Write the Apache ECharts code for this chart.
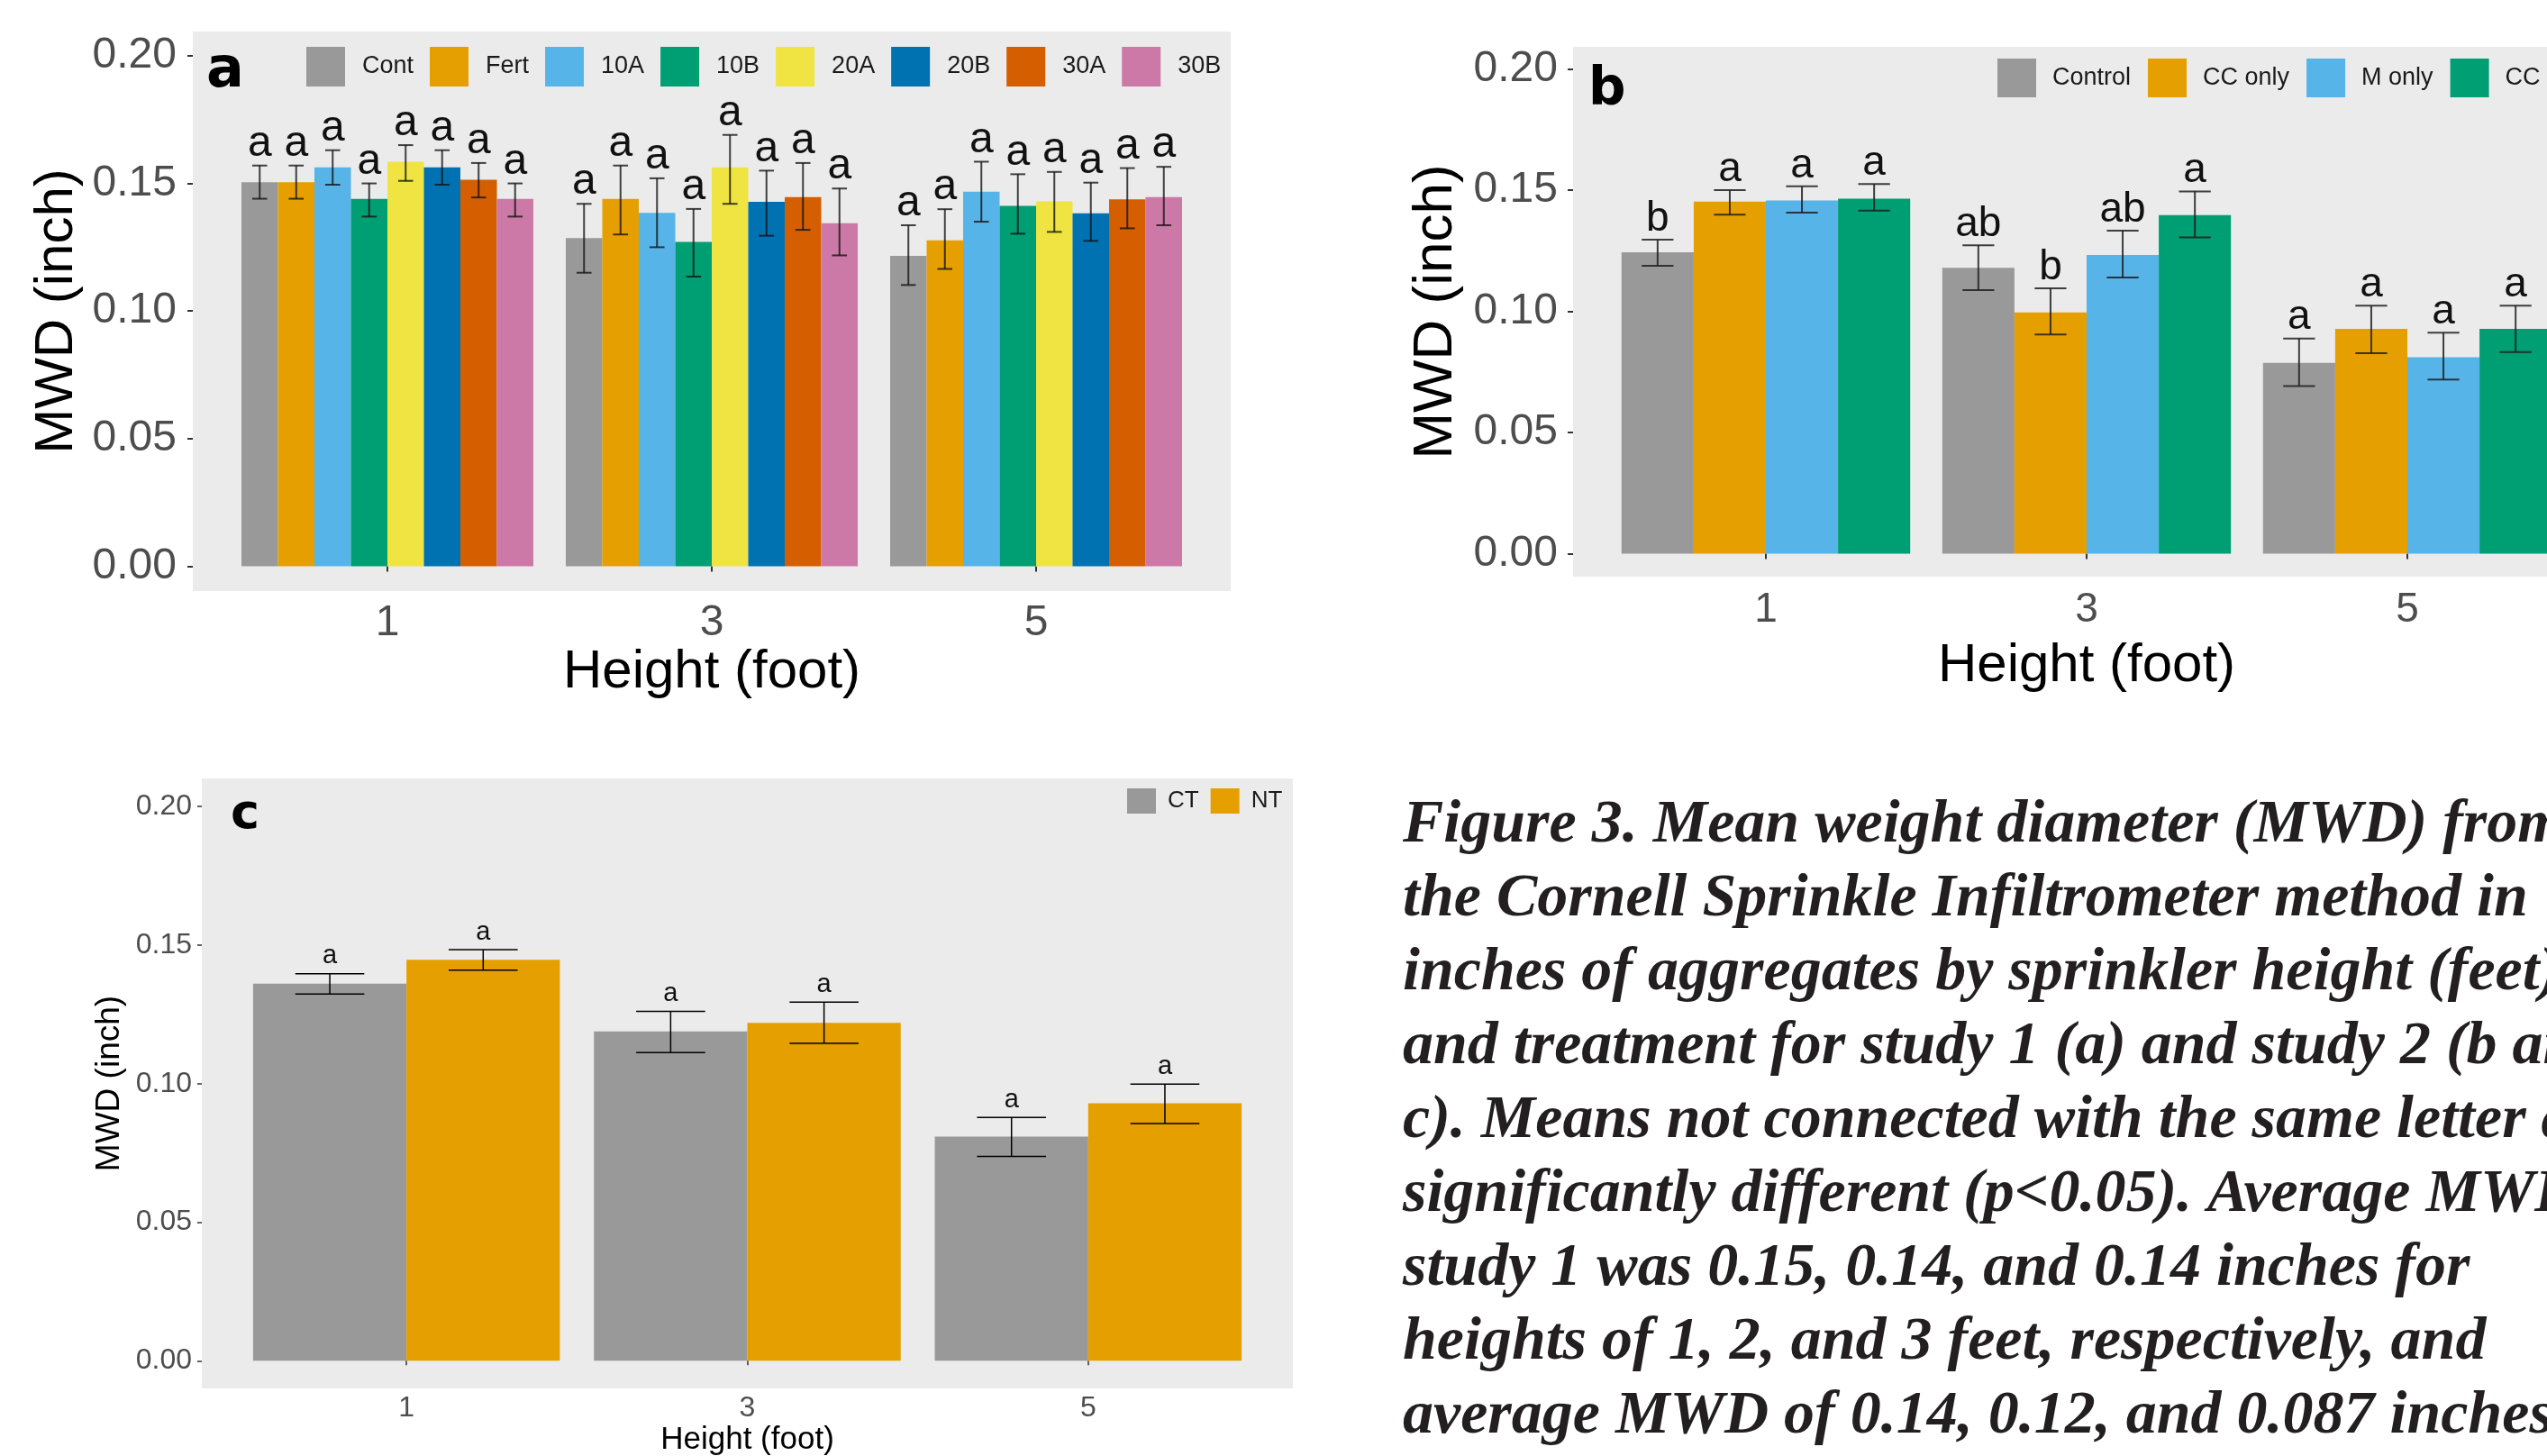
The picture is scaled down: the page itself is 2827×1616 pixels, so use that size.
<!DOCTYPE html>
<html>
<head>
<meta charset="utf-8">
<title>Figure 3 - MWD by sprinkler height</title>
<script src="https://cdn.jsdelivr.net/npm/echarts@6/dist/echarts.min.js"></script>
<style>
  html, body { margin: 0; padding: 0; background: #ffffff; }
  #main { width: 2827px; height: 1616px; }
</style>
</head>
<body>
<div id="main"></div>
<script>
var heights = ['1', '3', '5'];
var yTicks = [0, 0.05, 0.10, 0.15, 0.20];

// study 1 (panel a)
var aNames = ['Cont', 'Fert', '10A', '10B', '20A', '20B', '30A', '30B'];
var aMean = [
    [0.1505, 0.1286, 0.1216],
    [0.1505, 0.1439, 0.1277],
    [0.1563, 0.1385, 0.1468],
    [0.1439, 0.1271, 0.1412],
    [0.1585, 0.1563, 0.1430],
    [0.1563, 0.1428, 0.1383],
    [0.1514, 0.1446, 0.1438],
    [0.1439, 0.1344, 0.1446]
];
var aHigh = [
    [0.157, 0.142, 0.1336],
    [0.157, 0.157, 0.1399],
    [0.163, 0.152, 0.1585],
    [0.150, 0.140, 0.1536],
    [0.165, 0.169, 0.1545],
    [0.163, 0.155, 0.1503],
    [0.158, 0.158, 0.1560],
    [0.150, 0.148, 0.1565]
];
var aLow = [
    [0.144, 0.115, 0.1102],
    [0.144, 0.130, 0.1165],
    [0.1495, 0.125, 0.1350],
    [0.137, 0.1135, 0.1303],
    [0.151, 0.142, 0.1310],
    [0.1495, 0.1295, 0.1275],
    [0.1445, 0.1318, 0.1324],
    [0.137, 0.1218, 0.1336]
];
var aLetters = [
    ['a', 'a', 'a'], ['a', 'a', 'a'], ['a', 'a', 'a'], ['a', 'a', 'a'],
    ['a', 'a', 'a'], ['a', 'a', 'a'], ['a', 'a', 'a'], ['a', 'a', 'a']
];

// study 2 (panel b)
var bNames = ['Control', 'CC only', 'M only', 'CC + M'];
var bMean = [
    [0.1244, 0.1180, 0.0787],
    [0.1453, 0.0996, 0.0928],
    [0.1458, 0.1233, 0.0811],
    [0.1465, 0.1397, 0.0928]
];
var bHigh = [
    [0.1296, 0.1273, 0.0888],
    [0.1501, 0.1095, 0.1024],
    [0.1516, 0.1333, 0.0912],
    [0.1526, 0.1495, 0.1024]
];
var bLow = [
    [0.1188, 0.1088, 0.0692],
    [0.1399, 0.0905, 0.0827],
    [0.1408, 0.1140, 0.0719],
    [0.1416, 0.1305, 0.0832]
];
var bLetters = [
    ['b', 'ab', 'a'],
    ['a', 'b', 'a'],
    ['a', 'ab', 'a'],
    ['a', 'a', 'a']
];

// study 2 tillage (panel c)
var cNames = ['CT', 'NT'];
var cMean = [
    [0.1361, 0.1188, 0.0809],
    [0.1447, 0.1219, 0.0929]
];
var cHigh = [
    [0.1396, 0.1261, 0.0878],
    [0.1483, 0.1294, 0.0998]
];
var cLow = [
    [0.1323, 0.1112, 0.0737],
    [0.1409, 0.1145, 0.0856]
];
var cLetters = [
    ['a', 'a', 'a'],
    ['a', 'a', 'a']
];

var captionLines = [
    'Figure 3. Mean weight diameter (MWD) from',
    'the Cornell Sprinkle Infiltrometer method in',
    'inches of aggregates by sprinkler height (feet),',
    'and treatment for study 1 (a) and study 2 (b and',
    'c). Means not connected with the same letter are',
    'significantly different (p<0.05). Average MWD for',
    'study 1 was 0.15, 0.14, and 0.14 inches for',
    'heights of 1, 2, and 3 feet, respectively, and',
    'average MWD of 0.14, 0.12, and 0.087 inches'
];

var okabe = ['#999999', '#E69F00', '#56B4E9', '#009E73', '#F0E442', '#0072B2', '#D55E00', '#CC79A7'];
var FONT = 'Liberation Sans';

function barSeries(names, means, gridIdx) {
    return names.map(function (n, k) {
        return {
            name: n,
            type: 'bar',
            xAxisIndex: gridIdx,
            yAxisIndex: gridIdx,
            data: means[k],
            barGap: '0%',
            barCategoryGap: '10%',
            itemStyle: { color: okabe[k] },
            emphasis: { disabled: true },
            z: 2
        };
    });
}

// error bars + significance letters, one custom series per treatment
function errSeries(gridIdx, lows, highs, letters, st) {
    var n = lows.length;
    return lows.map(function (low, k) {
        return {
            type: 'custom',
            name: 'err_' + gridIdx + '_' + k,
            xAxisIndex: gridIdx,
            yAxisIndex: gridIdx,
            z: 5,
            silent: true,
            data: heights.map(function (h, i) { return [i, low[i], highs[k][i]]; }),
            renderItem: function (params, api) {
                var band = api.size([1, 0])[0];
                var barW = band * 0.9 / n;
                var dx = (k - (n - 1) / 2) * barW;
                var lo = api.coord([api.value(0), api.value(1)]);
                var hi = api.coord([api.value(0), api.value(2)]);
                var x = lo[0] + dx;
                var half = barW * st.cap / 2;
                var ls = { stroke: st.color, lineWidth: st.width };
                return {
                    type: 'group',
                    children: [
                        { type: 'line', shape: { x1: x, y1: hi[1], x2: x, y2: lo[1] }, style: ls },
                        { type: 'line', shape: { x1: x - half, y1: hi[1], x2: x + half, y2: hi[1] }, style: ls },
                        { type: 'line', shape: { x1: x - half, y1: lo[1], x2: x + half, y2: lo[1] }, style: ls },
                        {
                            type: 'text',
                            style: {
                                text: letters[k][params.dataIndex],
                                x: x,
                                y: hi[1] - st.gap,
                                align: 'center',
                                verticalAlign: 'bottom',
                                fontSize: st.font,
                                fontFamily: FONT,
                                fill: '#111111'
                            }
                        }
                    ]
                };
            }
        };
    });
}

function xAxisFor(gridIdx, p) {
    return {
        type: 'category',
        gridIndex: gridIdx,
        data: heights,
        axisLine: { show: false },
        axisTick: { show: true, alignWithLabel: true, interval: 0, length: p.tick, lineStyle: { color: '#333333', width: p.tickW } },
        axisLabel: { fontSize: p.tickFont, color: '#4D4D4D', fontFamily: FONT, margin: p.xMargin, interval: 0 },
        splitLine: { show: false },
        name: 'Height (foot)',
        nameLocation: 'middle',
        nameGap: p.xNameGap,
        nameTextStyle: { fontSize: p.titleFont, color: '#000000', fontFamily: FONT }
    };
}

function yAxisFor(gridIdx, p) {
    return {
        type: 'value',
        gridIndex: gridIdx,
        min: p.min,
        max: p.max,
        offset: p.offset,
        axisLine: { show: false },
        axisTick: { show: true, length: p.tick, lineStyle: { color: '#333333', width: p.tickW }, customValues: yTicks },
        axisLabel: {
            customValues: yTicks,
            formatter: function (v) { return v.toFixed(2); },
            fontSize: p.yFont,
            color: '#4D4D4D',
            fontFamily: FONT,
            margin: p.yMargin
        },
        splitLine: { show: false },
        name: 'MWD (inch)',
        nameLocation: 'middle',
        nameGap: p.yNameGap,
        nameTextStyle: { fontSize: p.yTitleFont, color: '#000000', fontFamily: FONT }
    };
}

var pa = { min: -0.0097, max: 0.2095, offset: 36, tick: 6, tickW: 2, tickFont: 48, yFont: 48, xMargin: 12, yMargin: 18,
    xNameGap: 56, yNameGap: 121, titleFont: 60, yTitleFont: 60 };
var pb = { min: -0.0095, max: 0.2092, offset: 36, tick: 6, tickW: 2, tickFont: 46, yFont: 48, xMargin: 14, yMargin: 17,
    xNameGap: 69, yNameGap: 121, titleFont: 60, yTitleFont: 62 };
var pc = { min: -0.00998, max: 0.2101, offset: 38, tick: 5, tickW: 1.5, tickFont: 32, yFont: 32, xMargin: 6, yMargin: 11,
    xNameGap: 40, yNameGap: 84, titleFont: 35, yTitleFont: 37 };

var graphics = [
    { type: 'rect', z: -10, shape: { x: 214, y: 35, width: 1152, height: 621 }, style: { fill: '#EBEBEB' } },
    { type: 'rect', z: -10, shape: { x: 1746, y: 52, width: 1200, height: 588 }, style: { fill: '#EBEBEB' } },
    { type: 'rect', z: -10, shape: { x: 224, y: 864, width: 1211, height: 677 }, style: { fill: '#EBEBEB' } },
    { type: 'text', z: 10, style: { text: 'a', x: 229, y: 80, verticalAlign: 'middle', fontSize: 62, fontWeight: 'bold', fontFamily: 'DejaVu Sans', fill: '#000' } },
    { type: 'text', z: 10, style: { text: 'b', x: 1763, y: 101, verticalAlign: 'middle', fontSize: 58, fontWeight: 'bold', fontFamily: 'DejaVu Sans', fill: '#000' } },
    { type: 'text', z: 10, style: { text: 'c', x: 256, y: 905, verticalAlign: 'middle', fontSize: 54, fontWeight: 'bold', fontFamily: 'DejaVu Sans', fill: '#000' } }
];
captionLines.forEach(function (line, i) {
    graphics.push({
        type: 'text',
        z: 10,
        style: {
            text: line,
            x: 1557,
            y: 916 + i * 82,
            verticalAlign: 'middle',
            fontSize: 68,
            fontStyle: 'italic',
            fontWeight: 'bold',
            fontFamily: 'Liberation Serif',
            fill: '#231F20'
        }
    });
});

var chart = echarts.init(document.getElementById('main'), null, { renderer: 'canvas' });

var option = {
    backgroundColor: '#ffffff',
    animation: false,
    grid: [
        { left: 250, top: 35, width: 1080, height: 621, outerBoundsMode: 'none', containLabel: false },
        { left: 1782, top: 52, width: 1068, height: 588, outerBoundsMode: 'none', containLabel: false },
        { left: 262, top: 864, width: 1135, height: 677, outerBoundsMode: 'none', containLabel: false }
    ],
    xAxis: [xAxisFor(0, pa), xAxisFor(1, pb), xAxisFor(2, pc)],
    yAxis: [yAxisFor(0, pa), yAxisFor(1, pb), yAxisFor(2, pc)],
    legend: [
        {
            data: aNames, left: 340, top: 52, padding: 0, icon: 'rect', itemWidth: 43, itemHeight: 44, itemGap: 18,
            selectedMode: false, width: 1100,
            textStyle: { fontSize: 27, color: '#1A1A1A', fontFamily: FONT, padding: [0, 0, 0, 14] }
        },
        {
            data: bNames, left: 2217, top: 65, padding: 0, icon: 'rect', itemWidth: 43, itemHeight: 43, itemGap: 19,
            selectedMode: false, width: 900,
            textStyle: { fontSize: 27, color: '#1A1A1A', fontFamily: FONT, padding: [0, 0, 0, 13] }
        },
        {
            data: cNames, left: 1251, top: 875, padding: 0, icon: 'rect', itemWidth: 32, itemHeight: 28, itemGap: 13,
            selectedMode: false, width: 300,
            textStyle: { fontSize: 26, color: '#1A1A1A', fontFamily: FONT, padding: [0, 0, 0, 8] }
        }
    ],
    graphic: { elements: graphics },
    series: [].concat(
        barSeries(aNames, aMean, 0),
        barSeries(bNames, bMean, 1),
        barSeries(cNames, cMean, 2),
        errSeries(0, aLow, aHigh, aLetters, { cap: 0.41, color: 'rgba(20,20,20,0.8)', width: 2, gap: 0, font: 48 }),
        errSeries(1, bLow, bHigh, bLetters, { cap: 0.44, color: 'rgba(30,30,30,0.85)', width: 2, gap: 0, font: 46 }),
        errSeries(2, cLow, cHigh, cLetters, { cap: 0.45, color: '#000000', width: 1.5, gap: 5, font: 29 })
    )
};

chart.setOption(option);
window.addEventListener('resize', chart.resize);
</script>
</body>
</html>
